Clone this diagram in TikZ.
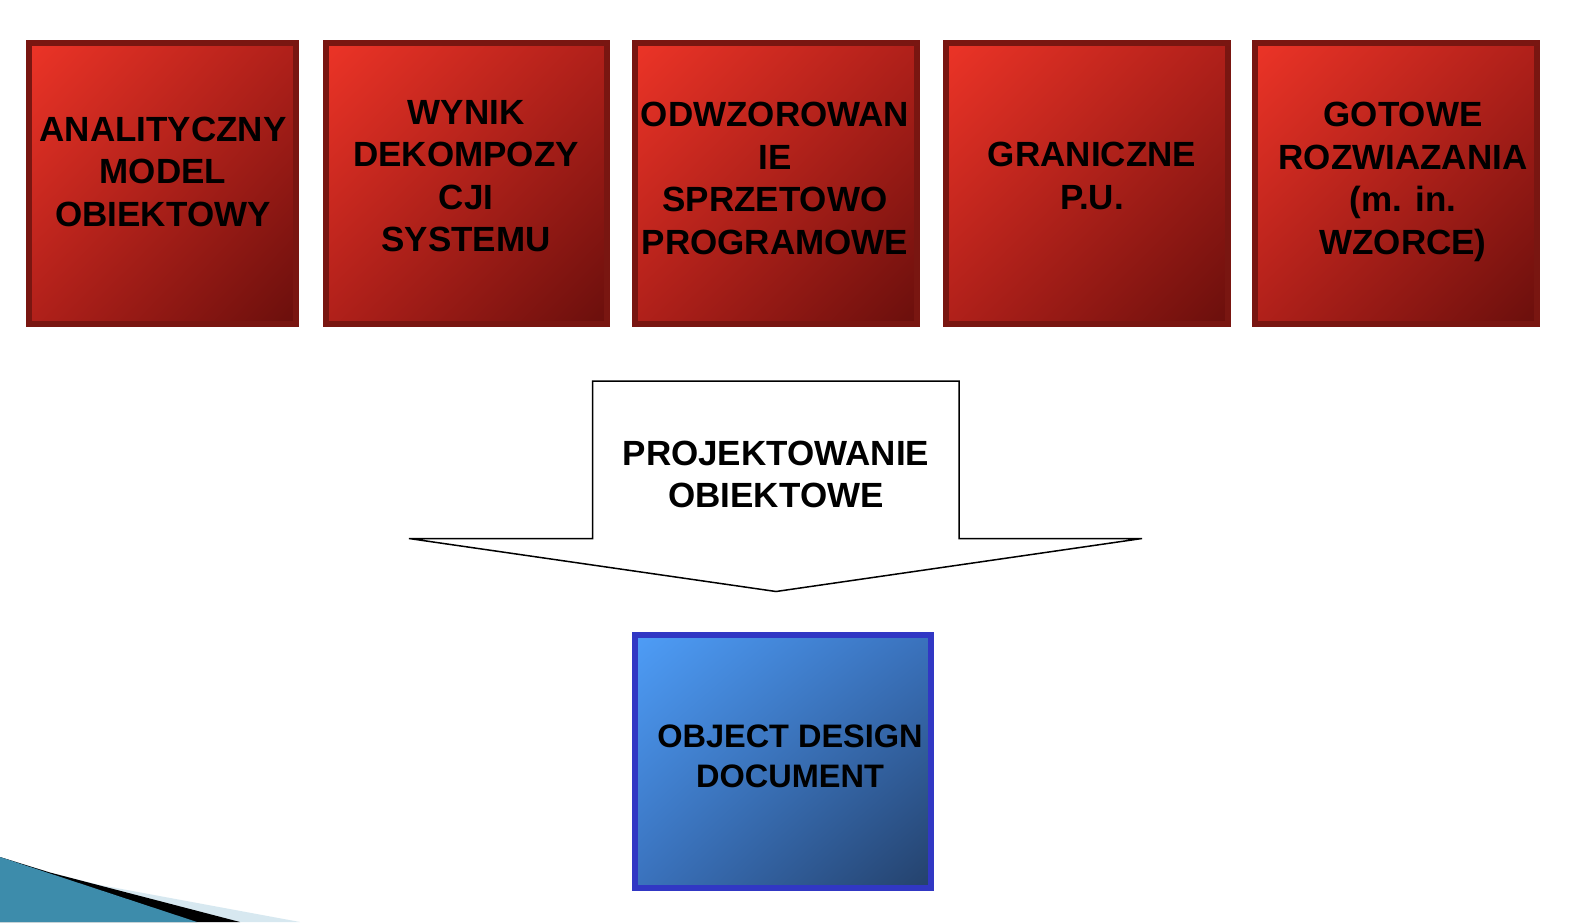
\documentclass[tikz,border=0pt]{standalone}
\usepackage{fontspec}
\setmainfont{Liberation Sans}
\usetikzlibrary{shadings}
\definecolor{redlight}{HTML}{EC3427}
\definecolor{redmid}{HTML}{B0201A}
\definecolor{reddark}{HTML}{6A0F0C}
\definecolor{redborder}{HTML}{791611}
\definecolor{bluelight}{HTML}{4E9DF7}
\definecolor{bluemid}{HTML}{3A72BD}
\definecolor{bluedark}{HTML}{24416B}
\definecolor{blueborder}{HTML}{3137C4}
\definecolor{tealdeco}{HTML}{3D8CAB}
\definecolor{paledeco}{HTML}{D7E8F0}
\begin{document}
\begin{tikzpicture}[x=1pt,y=-1pt,
  redbox/.style={draw=redborder, line width=6pt, minimum height=281pt,
    upper left=redlight, lower right=reddark, upper right=redmid, lower left=redmid,
    inner sep=0pt},
  bluebox/.style={draw=blueborder, line width=6pt, minimum width=296pt, minimum height=253pt,
    upper left=bluelight, lower right=bluedark, upper right=bluemid, lower left=bluemid,
    inner sep=0pt},
  boxtext/.style={font=\fontsize{35}{42.5}\selectfont\bfseries, align=center, inner sep=0pt, text=black},
  bluetext/.style={font=\fontsize{32.5}{40}\selectfont\bfseries, align=center, inner sep=0pt, text=black},
  arrowshape/.style={draw=black, line width=1.5pt, fill=white, line join=miter}
]
\useasboundingbox (0,0) rectangle (1596,922);
\fill[white] (0,0) rectangle (1596,922);

% red boxes
\node[redbox, minimum width=267.5pt] (b1) at (162.3,183.5) {};
\node[redbox, minimum width=281pt] (b2) at (466.5,183.5) {};
\node[redbox, minimum width=282pt] (b3) at (776,183.5) {};
\node[redbox, minimum width=282pt] (b4) at (1087,183.5) {};
\node[redbox, minimum width=282pt] (b5) at (1396,183.5) {};

\node[boxtext] (t1) at (163,171.5) {ANALITYCZNY\\MODEL\\OBIEKTOWY};
\node[boxtext] (t2) at (466,176) {WYNIK\\DEKOMPOZY\\CJI\\SYSTEMU};
\node[boxtext] (t3) at (775,178.5) {ODWZOROWAN\\IE\\SPRZETOWO\\PROGRAMOWE};
\node[boxtext] (t4) at (1092,175.8) {GRANICZNE\\P.U.};
\node[boxtext, text depth=0pt] (t5) at (1403,178.5) {GOTOWE\\ROZWIAZANIA\\(m. in.\\WZORCE)};

% block arrow
\coordinate (aTL) at (592.5,381);
\coordinate (aTR) at (959,381);
\coordinate (aSR) at (959,538.5);
\coordinate (aWR) at (1142,538.5);
\coordinate (aTip) at (776,591.5);
\coordinate (aWL) at (409,538.5);
\coordinate (aSL) at (592.5,538.5);
\draw[arrowshape] (aTL) -- (aTR) -- (aSR) -- (aWR) -- (aTip) -- (aWL) -- (aSL) -- cycle;
\node[boxtext] (ta) at (776,474.5) {PROJEKTOWANIE\\OBIEKTOWE};

% blue box
\node[bluebox] (bb) at (783,761.5) {};
\node[bluetext] (tb) at (790,756) {OBJECT DESIGN\\DOCUMENT};

% bottom-left decoration
\fill[paledeco] (0,857) -- (50,872.5) -- (100,885) -- (300,922) -- (0,922) -- cycle;
\fill[black] (0,857) -- (50,872.5) -- (240,922) -- (0,922) -- cycle;
\fill[tealdeco] (0,857) -- (50,873.5) -- (197,922) -- (0,922) -- cycle;
\end{tikzpicture}
\end{document}
